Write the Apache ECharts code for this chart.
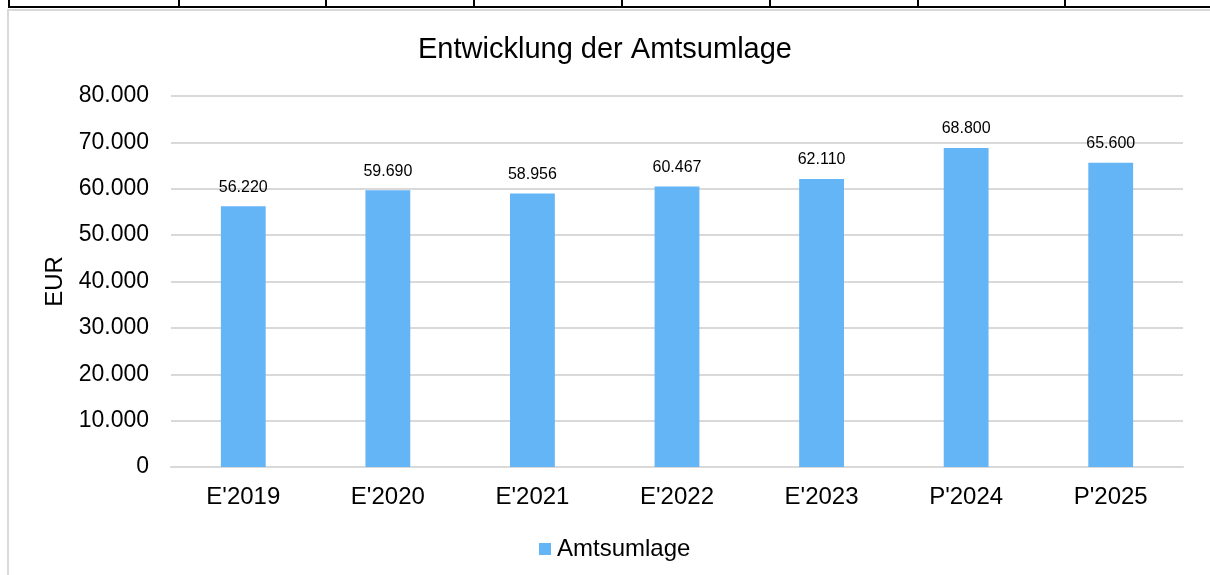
<!DOCTYPE html>
<html>
<head>
<meta charset="utf-8">
<script src="https://cdn.jsdelivr.net/npm/echarts@6/dist/echarts.min.js"></script>
<style>
  html, body { margin: 0; padding: 0; background: #fff; }
  #tableRow { position: absolute; left: 8px; top: 0; width: 1202px; height: 6px;
              border-bottom: 2px solid #000; }
  .cell { position: absolute; top: 0; height: 8px; width: 2px; background: #000; }
  #frame { position: absolute; left: 7px; top: 9px; width: 1203px; height: 566px;
           border-left: 2px solid #d9d9d9; border-top: 2px solid #d9d9d9; box-sizing: border-box; }
  #chart { position: absolute; left: 0; top: 0; width: 1210px; height: 575px; }
</style>
</head>
<body>
<div id="tableRow"></div>
<div id="frame"></div>
<div id="chart"></div>
<script>
  // Werte
  var categories = ["E'2019", "E'2020", "E'2021", "E'2022", "E'2023", "P'2024", "P'2025"]
  var amtsumlage = [56220, 59690, 58956, 60467, 62110, 68800, 65600]
  var cellLines = [8, 178, 325, 473, 621, 769, 917, 1064]

  cellLines.forEach(function (x) {
    var d = document.createElement('div')
    d.className = 'cell'
    d.style.left = x + 'px'
    document.body.appendChild(d)
  })

  // deutsches Zahlenformat: 56.220
  function fmt(v) {
    return String(Math.round(v)).replace(/\B(?=(\d{3})+(?!\d))/g, '.')
  }

  var chart = echarts.init(document.getElementById('chart'))
  chart.setOption({
    textStyle: { fontFamily: 'Liberation Sans, Arial, sans-serif' },
    title: {
      text: 'Entwicklung der Amtsumlage',
      left: 'center',
      top: 30,
      textStyle: { fontSize: 29, fontWeight: 'normal', color: '#000' }
    },
    legend: {
      bottom: 9,
      left: 534,
      itemWidth: 12,
      itemHeight: 12,
      itemGap: 6,
      icon: 'rect',
      textStyle: { fontSize: 24, color: '#000', padding: [0, 0, 0, 1] },
      data: ['Amtsumlage']
    },
    grid: { left: 171, right: 27, top: 96, bottom: 108 },
    xAxis: {
      type: 'category',
      data: categories,
      axisLine: { lineStyle: { color: '#d9d9d9', width: 2 } },
      axisTick: { show: false },
      axisLabel: { fontSize: 24, color: '#000', margin: 18 }
    },
    yAxis: {
      type: 'value',
      min: 0,
      max: 80000,
      interval: 10000,
      name: 'EUR',
      nameLocation: 'middle',
      nameGap: 84,
      nameTextStyle: { fontSize: 24, color: '#000' },
      axisLine: { show: false },
      axisTick: { show: false },
      splitLine: { lineStyle: { color: '#d9d9d9', width: 2 } },
      axisLabel: { fontSize: 23, color: '#000', margin: 22, formatter: fmt }
    },
    series: [{
      name: 'Amtsumlage',
      type: 'bar',
      data: amtsumlage,
      barWidth: '31%',
      itemStyle: { color: '#63b5f6' },
      label: {
        show: true,
        position: 'top',
        distance: 11,
        fontSize: 16,
        color: '#000',
        formatter: function (p) { return fmt(p.value) }
      }
    }]
  })
</script>
</body>
</html>
